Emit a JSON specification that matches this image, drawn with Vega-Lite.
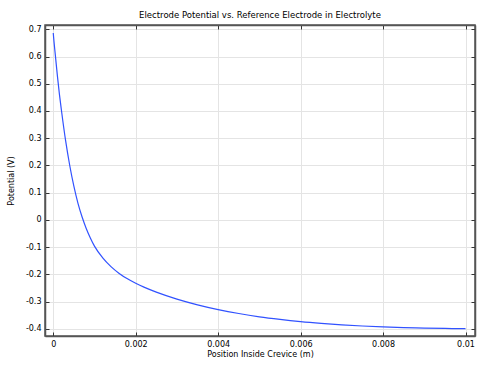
{
  "$schema": "https://vega.github.io/schema/vega-lite/v6.json",
  "width": 430,
  "height": 311,
  "autosize": "none",
  "padding": {"left": 45, "top": 25, "right": 6, "bottom": 32},
  "background": "white",
  "config": {
    "font": "DejaVu Sans",
    "view": {"stroke": "#555555", "strokeWidth": 1.5},
    "axis": {
      "labelFont": "DejaVu Sans",
      "titleFont": "DejaVu Sans",
      "labelFontSize": 8,
      "titleFontSize": 8,
      "titleFontWeight": "normal",
      "labelColor": "#000000",
      "titleColor": "#000000",
      "gridColor": "#e4e4e4",
      "gridWidth": 1,
      "domainColor": "#555555",
      "domainWidth": 1.5,
      "tickColor": "#333333",
      "tickSize": -4,
      "tickWidth": 1
    },
    "title": {"font": "DejaVu Sans", "fontSize": 8.5, "fontWeight": "normal", "color": "#000000", "offset": 5}
  },
  "title": "Electrode Potential vs. Reference Electrode in Electrolyte",
  "data": {
    "values": [
      {"x": 0, "y": 0.686},
      {"x": 0.00002, "y": 0.652},
      {"x": 0.00005, "y": 0.606},
      {"x": 0.0001, "y": 0.53},
      {"x": 0.00015, "y": 0.461},
      {"x": 0.0002, "y": 0.401},
      {"x": 0.0003, "y": 0.291},
      {"x": 0.0004, "y": 0.2},
      {"x": 0.0005, "y": 0.124},
      {"x": 0.0006, "y": 0.061},
      {"x": 0.0007, "y": 0.011},
      {"x": 0.0008, "y": -0.031},
      {"x": 0.0009, "y": -0.066},
      {"x": 0.001, "y": -0.096},
      {"x": 0.0012, "y": -0.139},
      {"x": 0.0014, "y": -0.171},
      {"x": 0.0016, "y": -0.196},
      {"x": 0.0018, "y": -0.216},
      {"x": 0.002, "y": -0.2324},
      {"x": 0.0022, "y": -0.2464},
      {"x": 0.0025, "y": -0.2647},
      {"x": 0.003, "y": -0.2902},
      {"x": 0.0035, "y": -0.3112},
      {"x": 0.004, "y": -0.3287},
      {"x": 0.0045, "y": -0.3432},
      {"x": 0.005, "y": -0.3552},
      {"x": 0.0055, "y": -0.3647},
      {"x": 0.006, "y": -0.3727},
      {"x": 0.0065, "y": -0.3792},
      {"x": 0.007, "y": -0.3847},
      {"x": 0.0075, "y": -0.389},
      {"x": 0.008, "y": -0.3922},
      {"x": 0.0085, "y": -0.3947},
      {"x": 0.009, "y": -0.3966},
      {"x": 0.0095, "y": -0.398},
      {"x": 0.01, "y": -0.3988}
    ]
  },
  "resolve": {"axis": {"x": "independent", "y": "independent"}},
  "layer": [
    {
      "mark": {"type": "line", "color": "#3152ff", "strokeWidth": 1.2, "interpolate": "monotone", "clip": true},
      "encoding": {
        "x": {
          "field": "x", "type": "quantitative",
          "scale": {"domain": [-0.0002, 0.01023], "nice": false, "zero": false},
          "axis": {
            "title": "Position Inside Crevice (m)",
            "values": [0, 0.002, 0.004, 0.006, 0.008, 0.01],
            "format": "~g",
            "labelPadding": 8,
            "titlePadding": 2
          }
        },
        "y": {
          "field": "y", "type": "quantitative",
          "scale": {"domain": [-0.4257, 0.7156], "nice": false, "zero": false},
          "axis": {
            "title": "Potential (V)",
            "values": [-0.4, -0.3, -0.2, -0.1, 0, 0.1, 0.2, 0.3, 0.4, 0.5, 0.6, 0.7],
            "labelExpr": "replace(format(datum.value, '~g'), '\u2212', '-')",
            "labelPadding": 8,
            "titlePadding": 10
          }
        }
      }
    },
    {
      "mark": {"type": "line", "opacity": 0, "clip": true},
      "encoding": {
        "x": {
          "field": "x", "type": "quantitative",
          "axis": {
            "orient": "top", "title": null, "labels": false, "grid": false,
            "values": [0, 0.002, 0.004, 0.006, 0.008, 0.01]
          }
        },
        "y": {
          "field": "y", "type": "quantitative",
          "axis": {
            "orient": "right", "title": null, "labels": false, "grid": false,
            "values": [-0.4, -0.3, -0.2, -0.1, 0, 0.1, 0.2, 0.3, 0.4, 0.5, 0.6, 0.7]
          }
        }
      }
    }
  ]
}
